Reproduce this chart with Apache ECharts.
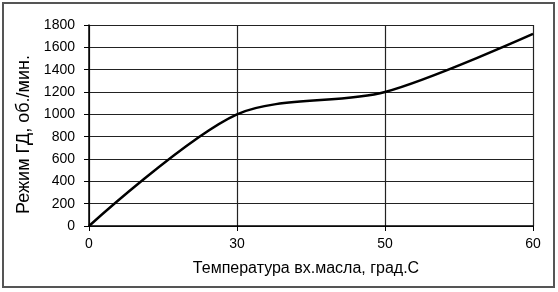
<!DOCTYPE html>
<html><head><meta charset="utf-8">
<script src="https://cdn.jsdelivr.net/npm/echarts@6/dist/echarts.min.js"></script>
<style>html,body{margin:0;padding:0;background:#fff}#c{width:558px;height:292px}</style>
</head><body><div id="c"></div>
<script>
const categories = ['0', '30', '50', '60'];
const values = [0, 1000, 1200, 1720];
const yTicks = { min: 0, max: 1800, interval: 200 };
const xTitle = 'Температура вх.масла, град.С';
const yTitle = 'Режим ГД, об./мин.';

const chart = echarts.init(document.getElementById('c'), null, { renderer: 'canvas' });
const font = 'Liberation Sans, Arial, sans-serif';
chart.setOption({
  animation: false,
  backgroundColor: '#fff',
  graphic: [{
    type: 'rect', shape: { x: 3, y: 3, width: 551, height: 284 },
    style: { fill: 'none', stroke: '#555', lineWidth: 2 }, z: 100
  }],
  grid: { left: 89, top: 25, right: 25, bottom: 66 },
  xAxis: {
    type: 'category', data: categories, boundaryGap: false,
    name: xTitle, nameLocation: 'middle', nameGap: 35,
    nameTextStyle: { fontFamily: font, fontSize: 16, color: '#000', padding: [0, 10, 0, 0] },
    axisLine: { lineStyle: { color: '#000', width: 1.5 } },
    axisTick: { show: true, length: 5, lineStyle: { color: '#000' } },
    axisLabel: { fontFamily: font, fontSize: 14, color: '#000', margin: 11 },
    splitLine: { show: true, lineStyle: { color: '#222', width: 1.2 } }
  },
  yAxis: {
    type: 'value', min: yTicks.min, max: yTicks.max, interval: yTicks.interval,
    name: yTitle, nameLocation: 'middle', nameGap: 51, nameRotate: 90,
    nameTextStyle: { fontFamily: font, fontSize: 18, color: '#000', padding: [0, 18, 0, 0] },
    axisLine: { show: true, lineStyle: { color: '#000', width: 1.5 } },
    axisTick: { show: true, length: 5, lineStyle: { color: '#000' } },
    axisLabel: { fontFamily: font, fontSize: 14, color: '#000', margin: 14,
      formatter: function (v) { return String(v); } },
    splitLine: { show: true, lineStyle: { color: '#222', width: 1.2 } }
  },
  series: [{
    type: 'line', data: values, smooth: 0.3, symbol: 'none',
    lineStyle: { color: '#000', width: 2.5 }
  }]
});
</script></body></html>
